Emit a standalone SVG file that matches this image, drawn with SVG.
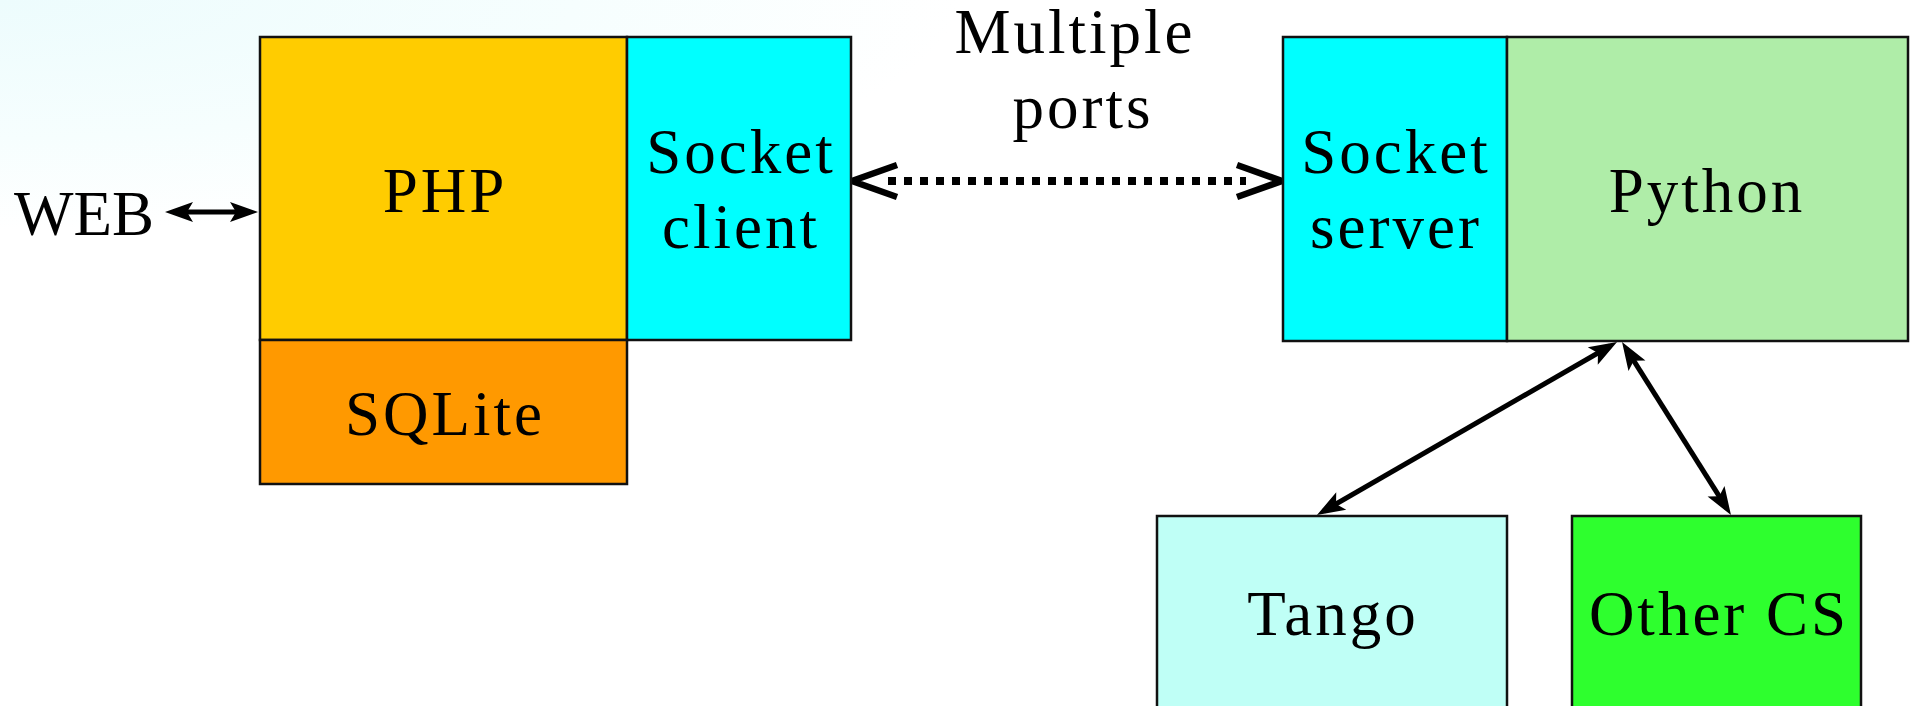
<svg xmlns="http://www.w3.org/2000/svg" width="1914" height="706" viewBox="0 0 1914 706">
<defs>
<radialGradient id="bg" gradientUnits="userSpaceOnUse" cx="0" cy="0" r="1" gradientTransform="scale(960,230)">
<stop offset="0" stop-color="#EDFCFD"/>
<stop offset="0.6" stop-color="#F6FEFE"/>
<stop offset="1" stop-color="#FFFFFF"/>
</radialGradient>
<marker id="head" markerUnits="userSpaceOnUse" viewBox="-20 -10 28 20" refX="0" refY="0" markerWidth="28" markerHeight="20" orient="auto-start-reverse" overflow="visible">
<path d="M-20,-10 L8,0 L-20,10 L-14,0 Z" fill="#000"/>
</marker>
<marker id="chev" markerUnits="userSpaceOnUse" viewBox="-12 -20 52 40" refX="0" refY="0" markerWidth="52" markerHeight="40" orient="auto-start-reverse" overflow="visible">
<path d="M-9,-16 L36,0 L-9,16" fill="none" stroke="#000" stroke-width="6.5"/>
</marker>
</defs>
<style>
.box{stroke:#111;stroke-width:2.5}
.t{font-family:"Liberation Serif","Times New Roman",serif;font-size:63px;letter-spacing:3px;fill:#000;text-anchor:middle}
.c{stroke:#000;stroke-width:5;fill:none}
</style>
<rect x="0" y="0" width="1914" height="706" fill="#FFFFFF"/>
<rect x="0" y="0" width="960" height="230" fill="url(#bg)"/>

<g id="connectors">
<line class="c" x1="173" y1="212" x2="250" y2="212" marker-start="url(#head)" marker-end="url(#head)"/>
<line x1="888" y1="181" x2="1246" y2="181" stroke="#000" stroke-width="8" stroke-dasharray="8 8" marker-start="url(#chev)" marker-end="url(#chev)"/>
<line class="c" x1="1610.1" y1="346" x2="1323.9" y2="511" marker-start="url(#head)" marker-end="url(#head)"/>
<line class="c" x1="1626.3" y1="348.8" x2="1726.7" y2="508.2" marker-start="url(#head)" marker-end="url(#head)"/>
</g>

<g id="web">
<text class="t" x="84" y="235" style="letter-spacing:0">WEB</text>
</g>
<g id="label-ports">
<text class="t" x="1075" y="53">Multiple</text>
<text class="t" x="1083" y="128">ports</text>
</g>

<g id="php">
<rect class="box" x="260" y="37" width="367" height="303" fill="#FFCC00"/>
<text class="t" x="445" y="212">PHP</text>
</g>
<g id="socket-client">
<rect class="box" x="627" y="37" width="224" height="303" fill="#00FFFF"/>
<text class="t" x="741" y="173">Socket</text>
<text class="t" x="741" y="248">client</text>
</g>
<g id="sqlite">
<rect class="box" x="260" y="340" width="367" height="144" fill="#FF9900"/>
<text class="t" x="445" y="435">SQLite</text>
</g>
<g id="socket-server">
<rect class="box" x="1283" y="37" width="224" height="304" fill="#00FFFF"/>
<text class="t" x="1396" y="173">Socket</text>
<text class="t" x="1396" y="248">server</text>
</g>
<g id="python">
<rect class="box" x="1507" y="37" width="401" height="304" fill="#AFEDA8"/>
<text class="t" x="1707" y="212">Python</text>
</g>
<g id="tango">
<rect class="box" x="1157" y="516" width="350" height="220" fill="#BFFFF6"/>
<text class="t" x="1333" y="635">Tango</text>
</g>
<g id="other-cs">
<rect class="box" x="1572" y="516" width="289" height="220" fill="#2EFF2E"/>
<text class="t" x="1719" y="635">Other CS</text>
</g>
</svg>
